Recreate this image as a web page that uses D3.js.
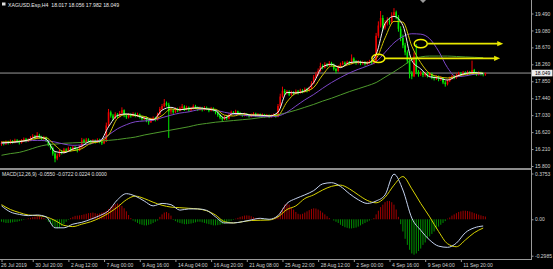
<!DOCTYPE html>
<html>
<head>
<meta charset="utf-8">
<script src="https://cdn.jsdelivr.net/npm/d3@7"></script>
<style>
  html, body { margin: 0; background: #000; overflow: hidden; }
  svg { display: block; }
  text { font-family: "Liberation Sans", Arial, sans-serif; }
</style>
</head>
<body>
<script>
// H4 candles, XAGUSD, 26 Jul - 12 Sep 2019
const open = [
16.33,16.36,16.33,16.38,16.35,16.40,16.37,16.42,16.39,16.36,
16.41,16.45,16.40,16.43,16.48,16.52,16.47,16.55,16.50,16.46,
16.49,16.41,16.32,16.24,16.10,15.98,16.05,16.15,16.12,16.20,
16.17,16.23,16.19,16.25,16.21,16.18,16.26,16.42,16.38,16.44,
16.40,16.36,16.41,16.38,16.43,16.39,16.35,16.40,16.78,17.10,
17.02,16.95,17.05,17.00,17.08,17.15,17.03,16.98,17.04,17.01,
17.06,17.02,17.05,16.99,16.94,16.97,16.90,16.86,16.93,16.96,
16.92,17.05,17.18,17.25,17.32,17.28,17.12,17.15,17.10,17.18,
17.14,17.20,17.24,17.17,17.22,17.15,17.19,17.25,17.21,17.17,
17.20,17.16,17.21,17.18,17.14,17.19,17.16,17.09,17.03,16.97,
16.93,16.98,16.95,17.04,17.10,17.07,17.12,17.08,17.05,17.02,
17.06,17.03,17.00,17.04,17.07,17.02,17.05,17.01,17.04,17.00,
17.03,16.99,17.02,17.04,17.00,17.25,17.48,17.62,17.56,17.60,
17.53,17.58,17.55,17.61,17.57,17.63,17.60,17.66,17.62,17.68,
17.80,17.95,18.02,18.10,18.22,18.18,18.26,18.23,18.29,18.25,
18.15,18.10,18.20,18.26,18.30,18.27,18.31,18.28,18.40,18.33,
18.29,18.32,18.28,18.31,18.27,18.30,18.33,18.29,18.32,18.95,
19.20,19.38,19.15,19.25,19.32,19.28,19.45,19.52,19.40,19.12,
18.90,18.72,18.55,18.35,18.05,17.97,18.45,18.08,18.02,18.06,
18.00,18.04,17.99,18.03,17.95,17.92,17.96,17.90,17.93,17.82,
17.78,17.86,17.92,17.97,17.94,18.00,18.04,18.01,18.06,18.03,
18.07,18.04,18.12,18.05,18.02,18.06,18.03,18.017
];
const high = [
16.40,16.39,16.42,16.41,16.44,16.43,16.46,16.45,16.42,16.45,
16.49,16.48,16.47,16.52,16.57,16.55,16.62,16.58,16.53,16.53,
16.51,16.44,16.35,16.27,16.14,16.10,16.19,16.18,16.24,16.23,
16.27,16.26,16.29,16.28,16.24,16.30,16.48,16.46,16.48,16.47,
16.43,16.45,16.44,16.47,16.46,16.42,16.44,16.85,17.18,17.14,
17.06,17.10,17.08,17.13,17.22,17.17,17.06,17.08,17.07,17.10,
17.09,17.09,17.07,17.02,17.01,17.00,16.93,16.97,17.00,16.99,
17.09,17.23,17.30,17.42,17.36,17.33,17.20,17.18,17.22,17.21,
17.24,17.30,17.27,17.26,17.24,17.23,17.29,17.28,17.24,17.24,
17.23,17.25,17.24,17.21,17.23,17.22,17.18,17.12,17.06,17.00,
17.02,17.01,17.08,17.14,17.13,17.16,17.14,17.11,17.08,17.09,
17.08,17.06,17.07,17.10,17.09,17.08,17.07,17.07,17.06,17.06,
17.05,17.05,17.07,17.06,17.30,17.55,17.72,17.66,17.64,17.63,
17.62,17.61,17.65,17.64,17.67,17.66,17.70,17.69,17.72,17.85,
18.00,18.08,18.16,18.30,18.26,18.31,18.29,18.34,18.32,18.28,
18.18,18.24,18.30,18.34,18.33,18.35,18.34,18.50,18.43,18.36,
18.36,18.35,18.35,18.34,18.34,18.37,18.36,18.36,19.02,19.30,
19.55,19.45,19.33,19.40,19.38,19.52,19.62,19.56,19.45,19.18,
18.98,18.78,18.60,18.40,18.10,18.55,18.75,18.12,18.10,18.09,
18.08,18.07,18.07,18.06,17.98,18.00,17.99,17.97,17.95,17.86,
17.90,17.96,18.01,18.00,18.04,18.08,18.07,18.10,18.09,18.11,
18.10,18.35,18.15,18.08,18.09,18.08,18.06,18.056
];
const low = [
16.29,16.30,16.31,16.32,16.33,16.34,16.35,16.36,16.32,16.34,
16.39,16.37,16.38,16.41,16.46,16.44,16.45,16.47,16.42,16.43,
16.38,16.28,16.19,16.05,15.89,15.94,16.02,16.08,16.10,16.13,
16.14,16.15,16.17,16.17,16.13,16.16,16.24,16.34,16.36,16.36,
16.32,16.34,16.34,16.36,16.35,16.31,16.33,16.38,16.75,16.97,
16.90,16.93,16.96,16.98,17.05,16.98,16.94,16.95,16.97,16.99,
16.98,16.99,16.95,16.90,16.91,16.86,16.80,16.84,16.90,16.88,
16.90,17.03,17.15,17.22,17.24,16.48,17.05,17.06,17.08,17.10,
17.12,17.18,17.13,17.15,17.11,17.12,17.17,17.18,17.13,17.14,
17.12,17.14,17.15,17.10,17.12,17.12,17.05,16.99,16.93,16.88,
16.91,16.91,16.93,17.02,17.04,17.05,17.05,17.02,16.99,17.00,
17.00,16.97,16.98,17.02,16.99,17.00,16.98,16.99,16.97,16.98,
16.96,16.97,17.00,16.97,16.98,17.22,17.45,17.51,17.53,17.49,
17.50,17.51,17.53,17.53,17.55,17.56,17.58,17.58,17.60,17.66,
17.78,17.92,17.99,18.08,18.14,18.16,18.19,18.21,18.21,18.11,
18.04,18.08,18.18,18.24,18.23,18.25,18.24,18.26,18.29,18.25,
18.26,18.24,18.25,18.23,18.24,18.27,18.25,18.26,18.29,18.90,
19.15,19.08,19.10,19.20,19.22,19.25,19.40,19.35,19.05,18.82,
18.65,18.48,18.28,17.92,17.90,17.95,18.02,17.96,17.98,17.95,
17.96,17.94,17.95,17.90,17.87,17.88,17.85,17.86,17.78,17.72,
17.75,17.83,17.89,17.90,17.91,17.97,17.97,17.98,17.99,18.00,
18.00,18.02,18.01,17.98,17.99,17.99,17.97,17.982
];
const close = [
16.36,16.33,16.38,16.35,16.40,16.37,16.42,16.39,16.36,16.41,
16.45,16.40,16.43,16.48,16.52,16.47,16.55,16.50,16.46,16.49,
16.41,16.32,16.24,16.10,15.98,16.05,16.15,16.12,16.20,16.17,
16.23,16.19,16.25,16.21,16.18,16.26,16.42,16.38,16.44,16.40,
16.36,16.41,16.38,16.43,16.39,16.35,16.40,16.78,17.10,17.02,
16.95,17.05,17.00,17.08,17.15,17.03,16.98,17.04,17.01,17.06,
17.02,17.05,16.99,16.94,16.97,16.90,16.86,16.93,16.96,16.92,
17.05,17.18,17.25,17.32,17.28,17.12,17.15,17.10,17.18,17.14,
17.20,17.24,17.17,17.22,17.15,17.19,17.25,17.21,17.17,17.20,
17.16,17.21,17.18,17.14,17.19,17.16,17.09,17.03,16.97,16.93,
16.98,16.95,17.04,17.10,17.07,17.12,17.08,17.05,17.02,17.06,
17.03,17.00,17.04,17.07,17.02,17.05,17.01,17.04,17.00,17.03,
16.99,17.02,17.04,17.00,17.25,17.48,17.62,17.56,17.60,17.53,
17.58,17.55,17.61,17.57,17.63,17.60,17.66,17.62,17.68,17.80,
17.95,18.02,18.10,18.22,18.18,18.26,18.23,18.29,18.25,18.15,
18.10,18.20,18.26,18.30,18.27,18.31,18.28,18.40,18.33,18.29,
18.32,18.28,18.31,18.27,18.30,18.33,18.29,18.32,18.95,19.20,
19.38,19.15,19.25,19.32,19.28,19.45,19.52,19.40,19.12,18.90,
18.72,18.55,18.35,18.05,17.97,18.45,18.08,18.02,18.06,18.00,
18.04,17.99,18.03,17.95,17.92,17.96,17.90,17.93,17.82,17.78,
17.86,17.92,17.97,17.94,18.00,18.04,18.01,18.06,18.03,18.07,
18.04,18.12,18.05,18.02,18.06,18.03,18.02,18.049
];

// moving averages, read every 4th bar
const maStep = 4;
const maWhite = [16.36,16.37,16.39,16.43,16.51,16.45,16.15,16.12,16.21,16.28,16.40,16.40,16.75,17.02,17.06,17.03,16.96,16.92,17.15,17.22,17.16,17.19,17.21,17.18,17.14,16.96,17.07,17.07,17.03,17.03,17.01,17.10,17.58,17.57,17.62,17.82,18.20,18.26,18.18,18.30,18.32,18.29,18.50,19.25,19.42,19.20,18.35,18.15,17.96,17.93,17.88,17.97,18.04,18.06,18.04];
const maYellow = [16.38,16.38,16.40,16.42,16.47,16.48,16.30,16.15,16.17,16.22,16.35,16.39,16.55,16.95,17.05,17.02,17.00,16.93,17.02,17.18,17.16,17.19,17.19,17.18,17.17,17.03,17.01,17.06,17.04,17.03,17.02,17.03,17.35,17.56,17.60,17.70,18.00,18.22,18.20,18.26,18.31,18.30,18.40,18.90,19.30,19.28,18.70,18.30,18.04,17.96,17.93,17.97,18.02,18.04,18.05];
const maPurple = [16.35,16.37,16.39,16.41,16.42,16.41,16.38,16.33,16.30,16.31,16.34,16.42,16.55,16.70,16.80,16.87,16.89,16.91,16.97,17.03,17.08,17.11,17.16,17.18,17.15,17.10,17.06,17.03,17.01,17.00,16.99,17.01,17.10,17.25,17.40,17.53,17.68,17.82,17.94,18.05,18.14,18.22,18.32,18.55,18.78,18.93,19.00,18.99,18.88,18.58,18.18,17.96,17.98,18.02,18.03];
const maGreen = [16.06,16.10,16.13,16.19,16.26,16.31,16.33,16.35,16.36,16.37,16.38,16.40,16.42,16.44,16.47,16.50,16.55,16.59,16.63,16.67,16.71,16.75,16.80,16.83,16.86,16.88,16.90,16.92,16.94,16.97,17.00,17.04,17.09,17.15,17.22,17.29,17.37,17.44,17.52,17.60,17.67,17.74,17.82,17.95,18.08,18.22,18.37,18.44,18.46,18.46,18.46,18.45,18.44,18.43,18.42];

// MACD(12,26,9): lines every 4th bar, histogram every bar
const macdMain = [0.11,0.06,0.04,0.03,0.035,0.02,-0.07,-0.07,-0.04,-0.025,0.0,0.03,0.07,0.16,0.21,0.19,0.15,0.11,0.13,0.12,0.075,0.085,0.085,0.073,0.02,-0.03,-0.03,-0.02,-0.005,0.008,0.0,0.03,0.13,0.17,0.20,0.235,0.29,0.30,0.27,0.21,0.16,0.13,0.15,0.20,0.37,0.24,0.01,-0.09,-0.17,-0.22,-0.23,-0.195,-0.11,-0.07,-0.055];
const macdSignal = [0.12,0.08,0.055,0.035,0.03,0.02,-0.01,-0.05,-0.06,-0.04,-0.02,0.01,0.05,0.10,0.16,0.19,0.17,0.14,0.115,0.10,0.095,0.09,0.085,0.07,0.035,-0.02,-0.03,-0.02,-0.01,-0.008,-0.006,0.02,0.08,0.11,0.17,0.20,0.24,0.27,0.28,0.25,0.20,0.155,0.135,0.18,0.28,0.35,0.25,0.13,0.02,-0.10,-0.20,-0.225,-0.17,-0.11,-0.072];
const macdHist = [
-0.02,-0.025,-0.03,-0.03,-0.028,-0.025,-0.022,-0.02,-0.015,-0.01,
-0.005,0.002,0.008,0.012,0.018,0.022,0.025,0.024,0.018,0.01,
-0.005,-0.02,-0.035,-0.05,-0.065,-0.075,-0.07,-0.055,-0.04,-0.02,
-0.005,0.01,0.02,0.028,0.03,0.032,0.035,0.04,0.045,0.05,
0.052,0.055,0.05,0.045,0.048,0.055,0.06,0.07,0.085,0.10,
0.115,0.125,0.13,0.125,0.11,0.09,0.065,0.035,0.01,-0.01,
-0.02,-0.03,-0.04,-0.045,-0.05,-0.05,-0.045,-0.04,-0.03,-0.02,
-0.01,0.02,0.04,0.055,0.06,0.05,0.03,-0.005,-0.015,-0.025,
-0.03,-0.035,-0.04,-0.04,-0.038,-0.035,-0.03,-0.025,-0.02,-0.02,
-0.025,-0.03,-0.035,-0.04,-0.045,-0.05,-0.05,-0.048,-0.045,-0.04,
-0.035,-0.03,-0.02,-0.012,-0.005,0.005,0.012,0.02,0.025,0.03,
0.032,0.03,0.025,0.018,0.01,0.005,0.003,-0.003,-0.005,-0.004,
-0.002,0.002,0.006,0.012,0.03,0.06,0.09,0.12,0.13,0.12,
0.10,0.08,0.06,0.045,0.04,0.045,0.055,0.065,0.075,0.085,
0.09,0.088,0.08,0.07,0.055,0.04,0.025,0.01,0.0,-0.01,
-0.02,-0.03,-0.045,-0.055,-0.065,-0.07,-0.075,-0.075,-0.072,-0.068,
-0.06,-0.05,-0.04,-0.03,-0.02,-0.01,-0.002,0.01,0.04,0.07,
0.10,0.12,0.14,0.15,0.15,0.14,0.12,0.08,0.02,-0.04,
-0.10,-0.16,-0.21,-0.25,-0.28,-0.29,-0.28,-0.26,-0.24,-0.21,
-0.19,-0.16,-0.14,-0.12,-0.10,-0.08,-0.06,-0.045,-0.03,-0.015,
0.005,0.015,0.03,0.04,0.05,0.06,0.065,0.07,0.07,0.068,
0.064,0.058,0.05,0.045,0.038,0.032,0.027,0.0224
];

// axis labels
const priceTicks = [19.49,19.08,18.67,18.26,17.85,17.44,17.03,16.62,16.21,15.80];
const macdTicks = [0.3753, 0, -0.2985];
const dateBars = [0,14,30,46,62,78,94,110,126,142,158,174,190,206];
const dateLabels = ["26 Jul 2019","30 Jul 20:00","2 Aug 12:00","7 Aug 00:00","9 Aug 16:00","14 Aug 04:00","16 Aug 20:00","21 Aug 08:00","25 Aug 22:00","28 Aug 12:00","2 Sep 00:00","4 Sep 16:00","9 Sep 04:00","11 Sep 20:00"];
const lastPrice = 18.049;

// hand-drawn yellow marks: circled bar, price, and arrow end bar
const markBars = [188, 169];
const markPrices = [18.76, 18.405];
const markEnds = [225, 223.6];

const W = 553, H = 269;
const axisX = 531;

const svg = d3.select('body').append('svg')
  .attr('width', W).attr('height', H)
  .style('background', '#000');

const x = d3.scaleLinear().domain([0, 217]).range([1.5, 485.4]);
const y = d3.scaleLinear().domain([15.8, 19.49]).range([166, 13.5]);
const ym = d3.scaleLinear().domain([-0.2985, 0.3753]).range([255.7, 173.5]);

svg.append('clipPath').attr('id', 'main')
  .append('rect').attr('x', 0).attr('y', 0).attr('width', axisX).attr('height', 168);
svg.append('clipPath').attr('id', 'sub')
  .append('rect').attr('x', 0).attr('y', 170).attr('width', axisX).attr('height', 89);

const main = svg.append('g').attr('clip-path', 'url(#main)');
const sub = svg.append('g').attr('clip-path', 'url(#sub)');

// bid line
main.append('line')
  .attr('x1', 0).attr('x2', axisX)
  .attr('y1', y(lastPrice)).attr('y2', y(lastPrice))
  .attr('stroke', '#9a9a9a').attr('stroke-width', 1);

// candles: red up, green down
const bars = d3.range(close.length);
const col = i => close[i] >= open[i] ? '#ee0000' : '#00ee00';
main.selectAll('line.wick').data(bars).enter().append('line')
  .attr('class', 'wick')
  .attr('x1', i => x(i)).attr('x2', i => x(i))
  .attr('y1', i => y(high[i])).attr('y2', i => y(low[i]))
  .attr('stroke', col).attr('stroke-width', 1);
main.selectAll('rect.body').data(bars).enter().append('rect')
  .attr('class', 'body')
  .attr('x', i => x(i) - 0.8)
  .attr('width', 1.6)
  .attr('y', i => y(Math.max(open[i], close[i])))
  .attr('height', i => Math.max(0.6, Math.abs(y(open[i]) - y(close[i]))))
  .attr('fill', col);

// moving averages
const maLine = d3.line()
  .x((d, k) => x(k * maStep))
  .y(d => y(d))
  .curve(d3.curveMonotoneX);
[[maGreen, '#4e9a2c'], [maPurple, '#7d46c8'], [maYellow, '#d2c600'], [maWhite, '#f4f4f4']]
  .forEach(([s, c]) => {
    main.append('path').attr('d', maLine(s))
      .attr('fill', 'none').attr('stroke', c).attr('stroke-width', 1);
  });

// yellow annotations
const ann = svg.append('g');
markBars.forEach((b, k) => {
  const cx = x(b), cy = y(markPrices[k]);
  const ex = x(markEnds[k]);
  ann.append('ellipse')
    .attr('cx', cx).attr('cy', cy).attr('rx', 6.5).attr('ry', 4.2)
    .attr('fill', 'none').attr('stroke', '#f2f200').attr('stroke-width', 1.5);
  ann.append('line')
    .attr('x1', cx + 6.5).attr('x2', ex - 4)
    .attr('y1', cy).attr('y2', cy)
    .attr('stroke', '#e8e800').attr('stroke-width', 1.6);
  ann.append('path')
    .attr('d', `M${ex},${cy} L${ex - 6},${cy - 2.6} L${ex - 6},${cy + 2.6} Z`)
    .attr('fill', '#e8e800');
});

// MACD histogram
const y0 = ym(0);
sub.selectAll('line.hist').data(bars).enter().append('line')
  .attr('class', 'hist')
  .attr('x1', i => x(i)).attr('x2', i => x(i))
  .attr('y1', y0).attr('y2', i => ym(macdHist[i]))
  .attr('stroke', i => macdHist[i] >= 0 ? '#b40000' : '#00a000')
  .attr('stroke-width', 0.9);

const macdLine = d3.line()
  .x((d, k) => x(k * maStep))
  .y(d => ym(d))
  .curve(d3.curveMonotoneX);
sub.append('path').attr('d', macdLine(macdSignal))
  .attr('fill', 'none').attr('stroke', '#d8d400').attr('stroke-width', 1);
sub.append('path').attr('d', macdLine(macdMain))
  .attr('fill', 'none').attr('stroke', '#c4d2ee').attr('stroke-width', 1);

// frame lines
svg.append('line').attr('x1', 0).attr('x2', axisX).attr('y1', 169).attr('y2', 169)
  .attr('stroke', '#8c8c8c').attr('stroke-width', 2);
svg.append('line').attr('x1', 0).attr('x2', axisX + 0.5).attr('y1', 259.5).attr('y2', 259.5)
  .attr('stroke', '#9a9a9a').attr('stroke-width', 1);
svg.append('line').attr('x1', axisX + 0.5).attr('x2', axisX + 0.5).attr('y1', 0).attr('y2', 260)
  .attr('stroke', '#9a9a9a').attr('stroke-width', 1);

// shift marker
svg.append('path').attr('d', 'M420,0 L426,0 L423,3 Z').attr('fill', '#9a9a9a');

// price axis
const pa = svg.append('g').attr('transform', `translate(${axisX + 0.5},0)`)
  .call(d3.axisRight(y).tickValues(priceTicks).tickFormat(d3.format('.3f')).tickSize(2).tickPadding(1.5));
const ma = svg.append('g').attr('transform', `translate(${axisX + 0.5},0)`)
  .call(d3.axisRight(ym).tickValues(macdTicks)
    .tickFormat(d => d === 0 ? '0.00' : d.toFixed(4)).tickSize(2).tickPadding(1.5));
const da = svg.append('g').attr('transform', 'translate(0,259.5)')
  .call(d3.axisBottom(x).tickValues(dateBars)
    .tickFormat((d, i) => dateLabels[i]).tickSize(2.5).tickPadding(1));

[pa, ma, da].forEach(g => {
  g.select('.domain').remove();
  g.selectAll('line').attr('stroke', '#9a9a9a');
  g.selectAll('text').attr('fill', '#d2d2d2').attr('font-size', 5)
    .attr('font-family', '"Liberation Sans", Arial, sans-serif');
});
da.selectAll('text').attr('text-anchor', 'start')
  .attr('x', (d, i) => i === 0 ? -1 : 2).attr('dy', '0.71em');

// current price tag
const tag = svg.append('g').attr('transform', `translate(${axisX + 1},${y(lastPrice)})`);
tag.append('rect').attr('x', 0).attr('y', -3.3).attr('width', 20.5).attr('height', 6.6).attr('fill', '#eeeeee');
tag.append('text').attr('x', 3).attr('y', 0).attr('dy', '0.35em')
  .attr('font-size', 5).attr('fill', '#000').text(lastPrice.toFixed(3));

// chart title and indicator name
svg.append('rect').attr('x', 2).attr('y', 2.5).attr('width', 3.5).attr('height', 3).attr('fill', '#dddddd');
svg.append('text').attr('x', 8).attr('y', 6.6)
  .attr('font-size', 5.2).attr('fill', '#e8e8e8').style('white-space', 'pre')
  .text('XAGUSD.Esp,H4  18.017 18.056 17.982 18.049');
svg.append('text').attr('x', 2).attr('y', 175.8)
  .attr('font-size', 5).attr('fill', '#e0e0e0').style('white-space', 'pre')
  .text('MACD(12,26,9) -0.0550 -0.0722 0.0224 0.0000');
</script>
</body>
</html>
